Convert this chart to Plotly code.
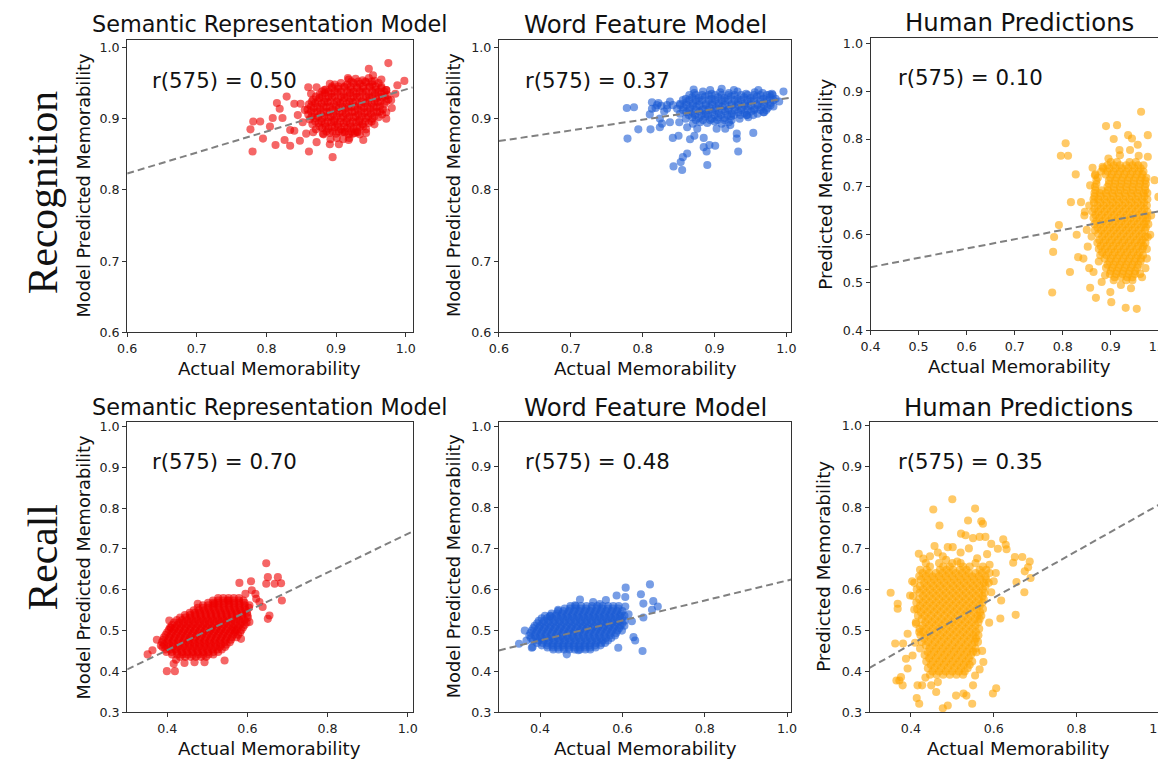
import plotly.graph_objects as go

W, H = 1166, 759

# ---------------- data ----------------
row_labels = ["Recognition", "Recall"]
titles = ["Semantic Representation Model", "Word Feature Model", "Human Predictions"]
r_texts = ["r(575) = 0.50", "r(575) = 0.37", "r(575) = 0.10",
           "r(575) = 0.70", "r(575) = 0.48", "r(575) = 0.35"]

# regression lines: (intercept, slope)
lines = [(0.646, 0.295), (0.7785, 0.150), (0.454, 0.195),
         (0.263, 0.474), (0.3784, 0.244), (0.238, 0.569)]

rec_sem_pts = [
    (0.975, 0.978), (0.947, 0.970), (0.998, 0.953), (0.988, 0.947), (0.780, 0.854), (0.781, 0.896),
    (0.791, 0.896), (0.777, 0.885), (0.795, 0.872), (0.805, 0.889), (0.809, 0.901), (0.813, 0.863),
    (0.826, 0.870), (0.834, 0.862), (0.815, 0.922), (0.829, 0.931), (0.819, 0.914), (0.823, 0.901),
    (0.834, 0.884), (0.840, 0.883), (0.849, 0.921), (0.840, 0.921), (0.860, 0.944), (0.872, 0.944),
    (0.864, 0.935), (0.848, 0.869), (0.861, 0.854), (0.872, 0.867), (0.891, 0.864), (0.895, 0.846),
    (0.904, 0.864), (0.918, 0.870), (0.931, 0.881), (0.939, 0.870), (0.943, 0.880), (0.972, 0.900),
    (0.972, 0.909), (0.979, 0.926), (0.972, 0.940), (0.953, 0.961), (0.917, 0.957), (0.891, 0.949),
    (0.883, 0.940), (0.924, 0.879), (0.912, 0.881), (0.881, 0.879), (0.867, 0.881), (0.857, 0.879),
    (0.845, 0.905), (0.852, 0.895), (0.855, 0.912), (0.965, 0.955), (0.985, 0.935), (0.980, 0.915),
    (0.918, 0.955), (0.928, 0.956), (0.938, 0.954), (0.947, 0.957), (0.955, 0.953),
    (0.898, 0.948), (0.907, 0.950), (0.916, 0.948), (0.925, 0.950), (0.934, 0.949), (0.943, 0.951),
    (0.952, 0.948), (0.961, 0.950),
    (0.885, 0.941), (0.894, 0.943), (0.903, 0.942), (0.912, 0.944), (0.921, 0.941), (0.930, 0.943),
    (0.939, 0.942), (0.948, 0.944), (0.957, 0.941), (0.965, 0.943), (0.972, 0.940),
    (0.876, 0.934), (0.884, 0.936), (0.893, 0.935), (0.902, 0.937), (0.911, 0.934), (0.920, 0.936),
    (0.929, 0.935), (0.938, 0.937), (0.947, 0.934), (0.956, 0.936), (0.965, 0.935), (0.974, 0.933),
    (0.867, 0.927), (0.876, 0.929), (0.885, 0.928), (0.894, 0.930), (0.903, 0.927), (0.912, 0.929),
    (0.921, 0.928), (0.930, 0.930), (0.939, 0.927), (0.948, 0.929), (0.957, 0.928), (0.966, 0.930),
    (0.975, 0.927),
    (0.861, 0.920), (0.870, 0.922), (0.879, 0.921), (0.888, 0.923), (0.897, 0.920), (0.906, 0.922),
    (0.915, 0.921), (0.924, 0.923), (0.933, 0.920), (0.942, 0.922), (0.951, 0.921), (0.960, 0.923),
    (0.969, 0.920),
    (0.859, 0.913), (0.868, 0.915), (0.877, 0.914), (0.886, 0.916), (0.895, 0.913), (0.904, 0.915),
    (0.913, 0.914), (0.922, 0.916), (0.931, 0.913), (0.940, 0.915), (0.949, 0.914), (0.958, 0.916),
    (0.967, 0.913),
    (0.860, 0.906), (0.869, 0.908), (0.878, 0.907), (0.887, 0.909), (0.896, 0.906), (0.905, 0.908),
    (0.914, 0.907), (0.923, 0.909), (0.932, 0.906), (0.941, 0.908), (0.950, 0.907), (0.959, 0.909),
    (0.966, 0.906),
    (0.862, 0.899), (0.871, 0.901), (0.880, 0.900), (0.889, 0.902), (0.898, 0.899), (0.907, 0.901),
    (0.916, 0.900), (0.925, 0.902), (0.934, 0.899), (0.943, 0.901), (0.952, 0.900), (0.961, 0.902),
    (0.866, 0.892), (0.875, 0.894), (0.884, 0.893), (0.893, 0.895), (0.902, 0.892), (0.911, 0.894),
    (0.920, 0.893), (0.929, 0.895), (0.938, 0.892), (0.947, 0.894), (0.955, 0.892),
    (0.871, 0.885), (0.880, 0.887), (0.889, 0.886), (0.898, 0.888), (0.907, 0.885), (0.916, 0.887),
    (0.925, 0.886), (0.934, 0.888), (0.943, 0.885),
    (0.882, 0.878), (0.891, 0.880), (0.900, 0.879), (0.909, 0.881), (0.918, 0.878), (0.927, 0.880),
    (0.934, 0.878),
    (0.892, 0.871), (0.901, 0.873), (0.910, 0.871), (0.919, 0.873),
]
rec_sem_core = [
    (0.952, [0.922, 0.932, 0.942, 0.951]),
    (0.945, [0.894, 0.903, 0.912, 0.921, 0.930, 0.939, 0.948, 0.957, 0.965]),
    (0.938, [0.880, 0.889, 0.898, 0.907, 0.916, 0.925, 0.934, 0.943, 0.952, 0.961, 0.969]),
    (0.931, [0.871, 0.880, 0.889, 0.898, 0.907, 0.916, 0.925, 0.934, 0.943, 0.952, 0.961, 0.970]),
    (0.924, [0.865, 0.874, 0.883, 0.892, 0.901, 0.910, 0.919, 0.928, 0.937, 0.946, 0.955, 0.964,
             0.972]),
    (0.917, [0.864, 0.873, 0.882, 0.891, 0.900, 0.909, 0.918, 0.927, 0.936, 0.945, 0.954, 0.963]),
    (0.910, [0.864, 0.873, 0.882, 0.891, 0.900, 0.909, 0.918, 0.927, 0.936, 0.945, 0.954, 0.963]),
    (0.903, [0.865, 0.874, 0.883, 0.892, 0.901, 0.910, 0.919, 0.928, 0.937, 0.946, 0.955]),
    (0.896, [0.870, 0.879, 0.888, 0.897, 0.906, 0.915, 0.924, 0.933, 0.942, 0.951]),
    (0.889, [0.876, 0.885, 0.894, 0.903, 0.912, 0.921, 0.930, 0.939]),
    (0.882, [0.886, 0.895, 0.904, 0.913, 0.922, 0.930]),
]

rec_word_pts = [
    (0.778, 0.915), (0.788, 0.916), (0.779, 0.872), (0.794, 0.885), (0.811, 0.885), (0.813, 0.923),
    (0.813, 0.914), (0.824, 0.900), (0.824, 0.888), (0.842, 0.873), (0.850, 0.876), (0.851, 0.895),
    (0.862, 0.888), (0.866, 0.871), (0.872, 0.876), (0.862, 0.851), (0.856, 0.846), (0.843, 0.833),
    (0.855, 0.828), (0.853, 0.839), (0.885, 0.873), (0.885, 0.860), (0.889, 0.854), (0.893, 0.863),
    (0.901, 0.862), (0.890, 0.835), (0.931, 0.879), (0.931, 0.872), (0.933, 0.854), (0.954, 0.880),
    (0.915, 0.886), (0.996, 0.938), (0.980, 0.935), (0.871, 0.941), (0.894, 0.940), (0.910, 0.942),
    (0.927, 0.940), (0.961, 0.940), (0.810, 0.906), (0.820, 0.919), (0.834, 0.919), (0.838, 0.895),
    (0.827, 0.893), (0.876, 0.886), (0.903, 0.886), (0.922, 0.891), (0.945, 0.905), (0.968, 0.909),
    (0.990, 0.924),
    (0.872, 0.936), (0.884, 0.938), (0.896, 0.935), (0.908, 0.937), (0.920, 0.936), (0.932, 0.938),
    (0.944, 0.935), (0.956, 0.937), (0.967, 0.936), (0.977, 0.934),
    (0.860, 0.928), (0.869, 0.930), (0.878, 0.929), (0.887, 0.931), (0.896, 0.928), (0.905, 0.930),
    (0.914, 0.929), (0.923, 0.931), (0.932, 0.928), (0.941, 0.930), (0.950, 0.929), (0.959, 0.931),
    (0.968, 0.928), (0.977, 0.930), (0.985, 0.928),
    (0.852, 0.921), (0.861, 0.923), (0.870, 0.922), (0.879, 0.924), (0.888, 0.921), (0.897, 0.923),
    (0.906, 0.922), (0.915, 0.924), (0.924, 0.921), (0.933, 0.923), (0.942, 0.922), (0.951, 0.924),
    (0.960, 0.921), (0.969, 0.923), (0.978, 0.922),
    (0.848, 0.914), (0.857, 0.916), (0.866, 0.915), (0.875, 0.917), (0.884, 0.914), (0.893, 0.916),
    (0.902, 0.915), (0.911, 0.917), (0.920, 0.914), (0.929, 0.916), (0.938, 0.915), (0.947, 0.917),
    (0.956, 0.914), (0.965, 0.916), (0.974, 0.915), (0.982, 0.917),
    (0.852, 0.907), (0.861, 0.909), (0.870, 0.908), (0.879, 0.910), (0.888, 0.907), (0.897, 0.909),
    (0.906, 0.908), (0.915, 0.910), (0.924, 0.907), (0.933, 0.909), (0.942, 0.908), (0.951, 0.910),
    (0.960, 0.907), (0.969, 0.909),
    (0.860, 0.900), (0.869, 0.902), (0.878, 0.901), (0.887, 0.903), (0.896, 0.900), (0.905, 0.902),
    (0.914, 0.901), (0.923, 0.903), (0.935, 0.900), (0.947, 0.902),
    (0.870, 0.893), (0.880, 0.895), (0.890, 0.894), (0.900, 0.896), (0.910, 0.893), (0.920, 0.895),
    (0.818, 0.915), (0.826, 0.918), (0.834, 0.914), (0.842, 0.919), (0.830, 0.910), (0.822, 0.922),
    (0.838, 0.924),
]
rec_word_core = [
    (0.933, [0.865, 0.874, 0.883, 0.892, 0.901, 0.910, 0.919, 0.928, 0.937, 0.946, 0.955, 0.964,
             0.973, 0.981]),
    (0.926, [0.856, 0.865, 0.874, 0.883, 0.892, 0.901, 0.910, 0.919, 0.928, 0.937, 0.946, 0.955,
             0.964, 0.973, 0.982]),
    (0.919, [0.852, 0.861, 0.870, 0.879, 0.888, 0.897, 0.906, 0.915, 0.924, 0.933, 0.942, 0.951,
             0.960, 0.969, 0.978]),
    (0.912, [0.856, 0.865, 0.874, 0.883, 0.892, 0.901, 0.910, 0.919, 0.928, 0.937, 0.946, 0.955,
             0.964, 0.972]),
    (0.905, [0.864, 0.873, 0.882, 0.891, 0.900, 0.909, 0.918, 0.927, 0.936, 0.945, 0.954]),
    (0.898, [0.874, 0.884, 0.894, 0.904, 0.914, 0.924]),
]

rec_hum_pts = [
    (0.963, 0.857), (0.890, 0.827), (0.913, 0.829), (0.906, 0.800), (0.936, 0.808), (0.944, 0.801),
    (0.956, 0.788), (0.977, 0.808), (0.806, 0.791), (0.796, 0.765), (0.811, 0.765), (0.827, 0.726),
    (0.977, 0.763), (0.999, 0.679), (0.991, 0.714), (0.817, 0.668), (0.792, 0.620), (0.782, 0.595),
    (0.780, 0.564), (0.815, 0.522), (0.778, 0.479), (0.829, 0.600), (0.832, 0.553), (0.843, 0.550),
    (0.864, 0.522), (0.857, 0.489), (0.869, 0.468), (0.881, 0.501), (0.899, 0.480), (0.901, 0.459),
    (0.931, 0.447), (0.954, 0.445), (0.942, 0.488), (0.965, 0.511), (0.975, 0.550), (0.977, 0.595),
    (0.846, 0.648), (0.857, 0.703), (0.867, 0.724), (0.883, 0.742), (0.895, 0.759), (0.919, 0.766),
    (0.918, 0.777), (0.940, 0.777), (0.838, 0.668), (0.850, 0.610), (0.852, 0.575), (0.845, 0.640),
    (0.862, 0.740), (0.958, 0.765), (0.968, 0.745), (0.984, 0.640), (0.982, 0.600), (0.855, 0.530),
    (0.972, 0.530), (0.921, 0.495), (0.888, 0.515),
]
rec_hum_core = [
    (0.752, [0.900, 0.913, 0.939, 0.952]),
    (0.739, [0.884, 0.897, 0.910, 0.923, 0.936, 0.949, 0.962]),
    (0.726, [0.868, 0.889, 0.902, 0.915, 0.928, 0.941, 0.954, 0.966]),
    (0.713, [0.870, 0.896, 0.909, 0.922, 0.935, 0.948, 0.961, 0.972]),
    (0.700, [0.867, 0.893, 0.906, 0.919, 0.932, 0.945, 0.958, 0.971]),
    (0.687, [0.866, 0.877, 0.890, 0.903, 0.916, 0.929, 0.942, 0.955, 0.968, 0.976]),
    (0.674, [0.864, 0.874, 0.887, 0.900, 0.913, 0.926, 0.939, 0.952, 0.965, 0.976]),
    (0.661, [0.855, 0.872, 0.885, 0.898, 0.911, 0.924, 0.937, 0.950, 0.963, 0.975]),
    (0.648, [0.862, 0.874, 0.887, 0.900, 0.913, 0.926, 0.939, 0.952, 0.965, 0.976]),
    (0.635, [0.864, 0.876, 0.889, 0.902, 0.915, 0.928, 0.941, 0.954, 0.967, 0.976]),
    (0.622, [0.866, 0.878, 0.891, 0.904, 0.917, 0.930, 0.943, 0.956, 0.969, 0.978]),
    (0.609, [0.867, 0.880, 0.893, 0.906, 0.919, 0.932, 0.945, 0.958, 0.971]),
    (0.596, [0.860, 0.882, 0.895, 0.908, 0.921, 0.934, 0.947, 0.960, 0.972]),
    (0.583, [0.872, 0.885, 0.898, 0.911, 0.924, 0.937, 0.950, 0.963, 0.972]),
    (0.570, [0.875, 0.888, 0.901, 0.914, 0.927, 0.940, 0.953, 0.966, 0.975]),
    (0.557, [0.878, 0.891, 0.904, 0.917, 0.930, 0.943, 0.956, 0.967]),
    (0.544, [0.875, 0.897, 0.910, 0.923, 0.936, 0.949, 0.962]),
    (0.531, [0.890, 0.903, 0.916, 0.929, 0.942, 0.955]),
    (0.518, [0.898, 0.911, 0.924, 0.937, 0.950, 0.961]),
    (0.505, [0.906, 0.932, 0.945]),
    (0.745, [0.893, 0.906, 0.919, 0.932, 0.945, 0.957]),
    (0.732, [0.880, 0.893, 0.906, 0.919, 0.932, 0.945, 0.958, 0.968]),
    (0.719, [0.873, 0.899, 0.912, 0.925, 0.938, 0.951, 0.964, 0.974]),
    (0.706, [0.870, 0.896, 0.909, 0.922, 0.935, 0.948, 0.961, 0.973]),
    (0.693, [0.868, 0.881, 0.894, 0.907, 0.920, 0.933, 0.946, 0.959, 0.972]),
    (0.680, [0.866, 0.879, 0.892, 0.905, 0.918, 0.931, 0.944, 0.957, 0.970]),
    (0.667, [0.865, 0.878, 0.891, 0.904, 0.917, 0.930, 0.943, 0.956, 0.969]),
    (0.654, [0.866, 0.879, 0.892, 0.905, 0.918, 0.931, 0.944, 0.957, 0.970]),
    (0.641, [0.868, 0.881, 0.894, 0.907, 0.920, 0.933, 0.946, 0.959, 0.972]),
    (0.628, [0.870, 0.883, 0.896, 0.909, 0.922, 0.935, 0.948, 0.961, 0.973]),
    (0.615, [0.872, 0.885, 0.898, 0.911, 0.924, 0.937, 0.950, 0.963, 0.973]),
    (0.602, [0.874, 0.887, 0.900, 0.913, 0.926, 0.939, 0.952, 0.965]),
    (0.589, [0.876, 0.889, 0.902, 0.915, 0.928, 0.941, 0.954, 0.966]),
    (0.576, [0.879, 0.892, 0.905, 0.918, 0.931, 0.944, 0.957, 0.968]),
    (0.563, [0.882, 0.895, 0.908, 0.921, 0.934, 0.947, 0.960]),
    (0.550, [0.887, 0.900, 0.913, 0.926, 0.939, 0.952, 0.963]),
    (0.537, [0.893, 0.906, 0.919, 0.932, 0.945, 0.957]),
    (0.524, [0.900, 0.913, 0.926, 0.939, 0.951]),
    (0.511, [0.908, 0.921, 0.934, 0.945]),
]

rcl_sem_pts = [
    (0.647, 0.665), (0.651, 0.631), (0.676, 0.631), (0.684, 0.616), (0.668, 0.615), (0.647, 0.615),
    (0.686, 0.574), (0.655, 0.537), (0.651, 0.529), (0.609, 0.621), (0.580, 0.617), (0.611, 0.599),
    (0.622, 0.578), (0.638, 0.558), (0.605, 0.562), (0.584, 0.480), (0.543, 0.427), (0.351, 0.442),
    (0.363, 0.452), (0.374, 0.478), (0.384, 0.464), (0.399, 0.401), (0.419, 0.401), (0.416, 0.419),
    (0.422, 0.429), (0.443, 0.421), (0.468, 0.423), (0.493, 0.423), (0.409, 0.507), (0.405, 0.525),
    (0.476, 0.566), (0.518, 0.566), (0.551, 0.574), (0.568, 0.501), (0.605, 0.521), (0.620, 0.590),
    (0.595, 0.590), (0.630, 0.570),
]
rcl_sem_core = [
    (0.580, [0.527, 0.540, 0.553, 0.566, 0.579]),
    (0.568, [0.502, 0.515, 0.528, 0.541, 0.554, 0.567, 0.580, 0.593]),
    (0.556, [0.476, 0.489, 0.502, 0.515, 0.528, 0.541, 0.554, 0.567, 0.580, 0.593, 0.604]),
    (0.544, [0.456, 0.469, 0.482, 0.495, 0.508, 0.521, 0.534, 0.547, 0.560, 0.573, 0.586, 0.599]),
    (0.532, [0.432, 0.445, 0.458, 0.471, 0.484, 0.497, 0.510, 0.523, 0.536, 0.549, 0.562, 0.575,
             0.588, 0.601]),
    (0.520, [0.417, 0.430, 0.443, 0.456, 0.469, 0.482, 0.495, 0.508, 0.521, 0.534, 0.547, 0.560,
             0.573, 0.586, 0.598]),
    (0.508, [0.407, 0.420, 0.433, 0.446, 0.459, 0.472, 0.485, 0.498, 0.511, 0.524, 0.537, 0.550,
             0.563, 0.576, 0.589]),
    (0.496, [0.400, 0.413, 0.426, 0.439, 0.452, 0.465, 0.478, 0.491, 0.504, 0.517, 0.530, 0.543,
             0.556, 0.569, 0.582]),
    (0.484, [0.392, 0.405, 0.418, 0.431, 0.444, 0.457, 0.470, 0.483, 0.496, 0.509, 0.522, 0.535,
             0.548, 0.561, 0.573]),
    (0.472, [0.387, 0.400, 0.413, 0.426, 0.439, 0.452, 0.465, 0.478, 0.491, 0.504, 0.517, 0.530,
             0.543, 0.556]),
    (0.460, [0.388, 0.401, 0.414, 0.427, 0.440, 0.453, 0.466, 0.479, 0.492, 0.505, 0.518, 0.531,
             0.544]),
    (0.448, [0.398, 0.411, 0.424, 0.437, 0.450, 0.463, 0.476, 0.489, 0.502, 0.515, 0.527]),
    (0.436, [0.432, 0.445, 0.458, 0.471, 0.484, 0.497]),
    (0.574, [0.514, 0.527, 0.540, 0.553, 0.566, 0.579, 0.590]),
    (0.562, [0.489, 0.502, 0.515, 0.528, 0.541, 0.554, 0.567, 0.580, 0.593]),
    (0.550, [0.466, 0.479, 0.492, 0.505, 0.518, 0.531, 0.544, 0.557, 0.570, 0.583, 0.596]),
    (0.538, [0.444, 0.457, 0.470, 0.483, 0.496, 0.509, 0.522, 0.535, 0.548, 0.561, 0.574, 0.587,
             0.600]),
    (0.526, [0.424, 0.437, 0.450, 0.463, 0.476, 0.489, 0.502, 0.515, 0.528, 0.541, 0.554, 0.567,
             0.580, 0.593]),
    (0.514, [0.412, 0.425, 0.438, 0.451, 0.464, 0.477, 0.490, 0.503, 0.516, 0.529, 0.542, 0.555,
             0.568, 0.581, 0.593]),
    (0.502, [0.404, 0.417, 0.430, 0.443, 0.456, 0.469, 0.482, 0.495, 0.508, 0.521, 0.534, 0.547,
             0.560, 0.573, 0.585]),
    (0.490, [0.396, 0.409, 0.422, 0.435, 0.448, 0.461, 0.474, 0.487, 0.500, 0.513, 0.526, 0.539,
             0.552, 0.565, 0.577]),
    (0.478, [0.390, 0.403, 0.416, 0.429, 0.442, 0.455, 0.468, 0.481, 0.494, 0.507, 0.520, 0.533,
             0.546, 0.559]),
    (0.466, [0.392, 0.405, 0.418, 0.431, 0.444, 0.457, 0.470, 0.483, 0.496, 0.509, 0.522, 0.535,
             0.548]),
    (0.454, [0.395, 0.408, 0.421, 0.434, 0.447, 0.460, 0.473, 0.486, 0.499, 0.512, 0.525, 0.536]),
    (0.442, [0.412, 0.425, 0.438, 0.451, 0.464, 0.477, 0.490, 0.503, 0.515]),
]

rcl_word_pts = [
    (0.667, 0.613), (0.608, 0.605), (0.645, 0.589), (0.586, 0.586), (0.607, 0.582), (0.675, 0.572),
    (0.686, 0.559), (0.672, 0.551), (0.651, 0.566), (0.651, 0.532), (0.627, 0.484), (0.631, 0.476),
    (0.649, 0.450), (0.590, 0.458), (0.497, 0.576), (0.444, 0.551), (0.485, 0.562), (0.529, 0.570),
    (0.363, 0.500), (0.380, 0.458), (0.367, 0.476), (0.465, 0.442), (0.493, 0.452), (0.424, 0.535),
    (0.607, 0.559), (0.623, 0.523), (0.349, 0.468), (0.382, 0.460), (0.615, 0.540), (0.560, 0.575),
    (0.545, 0.565),
]
rcl_word_core = [
    (0.560, [0.474, 0.487, 0.500, 0.513, 0.526, 0.539, 0.552, 0.565, 0.578, 0.591]),
    (0.548, [0.444, 0.457, 0.470, 0.483, 0.496, 0.509, 0.522, 0.535, 0.548, 0.561, 0.574, 0.587,
             0.600]),
    (0.536, [0.412, 0.425, 0.438, 0.451, 0.464, 0.477, 0.490, 0.503, 0.516, 0.529, 0.542, 0.555,
             0.568, 0.581, 0.594, 0.605]),
    (0.524, [0.397, 0.410, 0.423, 0.436, 0.449, 0.462, 0.475, 0.488, 0.501, 0.514, 0.527, 0.540,
             0.553, 0.566, 0.579, 0.592, 0.605]),
    (0.512, [0.387, 0.400, 0.413, 0.426, 0.439, 0.452, 0.465, 0.478, 0.491, 0.504, 0.517, 0.530,
             0.543, 0.556, 0.569, 0.582, 0.595, 0.605]),
    (0.500, [0.380, 0.393, 0.406, 0.419, 0.432, 0.445, 0.458, 0.471, 0.484, 0.497, 0.510, 0.523,
             0.536, 0.549, 0.562, 0.575, 0.588, 0.599]),
    (0.488, [0.374, 0.387, 0.400, 0.413, 0.426, 0.439, 0.452, 0.465, 0.478, 0.491, 0.504, 0.517,
             0.530, 0.543, 0.556, 0.569, 0.582]),
    (0.476, [0.383, 0.396, 0.409, 0.422, 0.435, 0.448, 0.461, 0.474, 0.487, 0.500, 0.513, 0.526,
             0.539, 0.552, 0.565]),
    (0.464, [0.404, 0.417, 0.430, 0.443, 0.456, 0.469, 0.482, 0.495, 0.508, 0.521, 0.534, 0.547]),
    (0.454, [0.432, 0.445, 0.458, 0.471, 0.484, 0.497, 0.510, 0.522]),
    (0.554, [0.460, 0.473, 0.486, 0.499, 0.512, 0.525, 0.538, 0.551, 0.564, 0.577, 0.590]),
    (0.542, [0.428, 0.441, 0.454, 0.467, 0.480, 0.493, 0.506, 0.519, 0.532, 0.545, 0.558, 0.571,
             0.584, 0.597]),
    (0.530, [0.404, 0.417, 0.430, 0.443, 0.456, 0.469, 0.482, 0.495, 0.508, 0.521, 0.534, 0.547,
             0.560, 0.573, 0.586, 0.599]),
    (0.518, [0.393, 0.406, 0.419, 0.432, 0.445, 0.458, 0.471, 0.484, 0.497, 0.510, 0.523, 0.536,
             0.549, 0.562, 0.575, 0.588, 0.600]),
    (0.506, [0.384, 0.397, 0.410, 0.423, 0.436, 0.449, 0.462, 0.475, 0.488, 0.501, 0.514, 0.527,
             0.540, 0.553, 0.566, 0.579, 0.592]),
    (0.494, [0.377, 0.390, 0.403, 0.416, 0.429, 0.442, 0.455, 0.468, 0.481, 0.494, 0.507, 0.520,
             0.533, 0.546, 0.559, 0.572, 0.585]),
    (0.482, [0.378, 0.391, 0.404, 0.417, 0.430, 0.443, 0.456, 0.469, 0.482, 0.495, 0.508, 0.521,
             0.534, 0.547, 0.560, 0.573]),
    (0.470, [0.393, 0.406, 0.419, 0.432, 0.445, 0.458, 0.471, 0.484, 0.497, 0.510, 0.523, 0.536,
             0.549, 0.558]),
    (0.459, [0.418, 0.431, 0.444, 0.457, 0.470, 0.483, 0.496, 0.509, 0.522, 0.535]),
]

rcl_hum_pts = [
    (0.500, 0.820), (0.454, 0.795), (0.555, 0.797), (0.469, 0.756), (0.538, 0.768), (0.570, 0.766),
    (0.574, 0.760), (0.521, 0.736), (0.532, 0.732), (0.550, 0.725), (0.566, 0.728), (0.580, 0.728),
    (0.623, 0.722), (0.629, 0.709), (0.594, 0.711), (0.610, 0.699), (0.631, 0.698), (0.419, 0.687),
    (0.457, 0.706), (0.446, 0.681), (0.477, 0.681), (0.489, 0.703), (0.501, 0.703), (0.651, 0.679),
    (0.669, 0.679), (0.687, 0.668), (0.683, 0.654), (0.647, 0.665), (0.675, 0.644), (0.689, 0.628),
    (0.655, 0.618), (0.674, 0.593), (0.653, 0.538), (0.618, 0.573), (0.616, 0.529), (0.589, 0.519),
    (0.351, 0.592), (0.368, 0.565), (0.368, 0.553), (0.408, 0.551), (0.362, 0.468), (0.381, 0.468),
    (0.392, 0.492), (0.388, 0.431), (0.392, 0.407), (0.376, 0.386), (0.372, 0.378), (0.380, 0.366),
    (0.416, 0.366), (0.427, 0.366), (0.414, 0.335), (0.420, 0.321), (0.477, 0.310), (0.489, 0.317),
    (0.509, 0.341), (0.527, 0.346), (0.548, 0.321), (0.598, 0.346), (0.606, 0.359), (0.575, 0.423),
    (0.550, 0.366), (0.534, 0.341), (0.461, 0.350), (0.449, 0.366), (0.465, 0.374), (0.594, 0.593),
    (0.558, 0.447), (0.572, 0.450), (0.420, 0.496), (0.412, 0.516), (0.404, 0.439), (0.365, 0.378),
    (0.600, 0.620), (0.605, 0.640), (0.590, 0.660), (0.520, 0.690), (0.540, 0.700), (0.465, 0.690),
    (0.430, 0.675), (0.485, 0.672), (0.512, 0.668), (0.560, 0.676), (0.584, 0.686), (0.403, 0.620),
    (0.398, 0.585), (0.410, 0.470), (0.566, 0.405), (0.555, 0.390), (0.435, 0.385),
]
rcl_hum_core = [
    (0.664, [0.436, 0.468, 0.500, 0.520, 0.556]),
    (0.648, [0.422, 0.438, 0.470, 0.486, 0.502, 0.518, 0.534, 0.566, 0.582]),
    (0.632, [0.420, 0.436, 0.452, 0.468, 0.484, 0.500, 0.516, 0.532, 0.548, 0.564, 0.580]),
    (0.616, [0.408, 0.432, 0.448, 0.464, 0.480, 0.496, 0.512, 0.528, 0.544, 0.560, 0.576, 0.588]),
    (0.600, [0.414, 0.430, 0.446, 0.462, 0.478, 0.494, 0.510, 0.526, 0.542, 0.558, 0.574]),
    (0.584, [0.405, 0.429, 0.445, 0.461, 0.477, 0.493, 0.509, 0.525, 0.541, 0.557, 0.573]),
    (0.568, [0.413, 0.429, 0.445, 0.461, 0.477, 0.493, 0.509, 0.525, 0.541, 0.557, 0.573]),
    (0.552, [0.415, 0.431, 0.447, 0.463, 0.479, 0.495, 0.511, 0.527, 0.543, 0.559, 0.574]),
    (0.536, [0.417, 0.433, 0.449, 0.465, 0.481, 0.497, 0.513, 0.529, 0.545, 0.561, 0.570]),
    (0.520, [0.412, 0.435, 0.451, 0.467, 0.483, 0.499, 0.515, 0.531, 0.547, 0.563]),
    (0.504, [0.421, 0.437, 0.453, 0.469, 0.485, 0.501, 0.517, 0.533, 0.549, 0.565]),
    (0.488, [0.423, 0.439, 0.455, 0.471, 0.487, 0.503, 0.519, 0.535, 0.551, 0.563]),
    (0.472, [0.426, 0.442, 0.458, 0.474, 0.490, 0.506, 0.522, 0.538, 0.554, 0.562]),
    (0.456, [0.422, 0.445, 0.461, 0.477, 0.493, 0.509, 0.525, 0.541, 0.556]),
    (0.440, [0.433, 0.449, 0.465, 0.481, 0.497, 0.513, 0.529, 0.545]),
    (0.424, [0.437, 0.453, 0.469, 0.485, 0.501, 0.517, 0.533, 0.548]),
    (0.408, [0.441, 0.457, 0.473, 0.489, 0.505, 0.521, 0.537]),
    (0.392, [0.446, 0.462, 0.478, 0.494, 0.510, 0.526]),
    (0.656, [0.446, 0.478, 0.494, 0.526, 0.542, 0.574]),
    (0.640, [0.428, 0.444, 0.460, 0.476, 0.492, 0.508, 0.524, 0.540, 0.556, 0.572, 0.590]),
    (0.624, [0.424, 0.440, 0.456, 0.472, 0.488, 0.504, 0.520, 0.536, 0.552, 0.568, 0.582]),
    (0.608, [0.422, 0.438, 0.454, 0.470, 0.486, 0.502, 0.518, 0.534, 0.550, 0.566, 0.580]),
    (0.592, [0.421, 0.437, 0.453, 0.469, 0.485, 0.501, 0.517, 0.533, 0.549, 0.565, 0.578]),
    (0.576, [0.420, 0.436, 0.452, 0.468, 0.484, 0.500, 0.516, 0.532, 0.548, 0.564, 0.576]),
    (0.560, [0.422, 0.438, 0.454, 0.470, 0.486, 0.502, 0.518, 0.534, 0.550, 0.566]),
    (0.544, [0.424, 0.440, 0.456, 0.472, 0.488, 0.504, 0.520, 0.536, 0.552, 0.567]),
    (0.528, [0.426, 0.442, 0.458, 0.474, 0.490, 0.506, 0.522, 0.538, 0.554, 0.566]),
    (0.512, [0.428, 0.444, 0.460, 0.476, 0.492, 0.508, 0.524, 0.540, 0.556]),
    (0.496, [0.430, 0.446, 0.462, 0.478, 0.494, 0.510, 0.526, 0.542, 0.557]),
    (0.480, [0.432, 0.448, 0.464, 0.480, 0.496, 0.512, 0.528, 0.544, 0.557]),
    (0.464, [0.436, 0.452, 0.468, 0.484, 0.500, 0.516, 0.532, 0.548]),
    (0.448, [0.440, 0.456, 0.472, 0.488, 0.504, 0.520, 0.536, 0.550]),
    (0.432, [0.444, 0.460, 0.476, 0.492, 0.508, 0.524, 0.540]),
    (0.416, [0.448, 0.464, 0.480, 0.496, 0.512, 0.528, 0.542]),
    (0.400, [0.452, 0.468, 0.484, 0.500, 0.516, 0.530]),
]

rec_ticks_a = [0.6, 0.7, 0.8, 0.9, 1.0]
rec_ticks_h = [0.4, 0.5, 0.6, 0.7, 0.8, 0.9, 1.0]
rcl_xticks = [0.4, 0.6, 0.8, 1.0]
rcl_yticks = [0.3, 0.4, 0.5, 0.6, 0.7, 0.8, 0.9, 1.0]

# ---------------- styling / layout ----------------
RED = "rgb(238,0,0)"
BLUE = "rgb(28,92,212)"
ORANGE = "rgb(255,165,0)"
FONT = "DejaVu Sans"
FS = 1.015  # font scale

# placement helpers: target pixel -> paper fraction
SX, OX = 0.9845, 19.0
SY, OY = 0.984, 12.7


def PX(x):
    return min(1.0, max(0.0, (x - OX) / SX / W))


def PY(y):
    return min(1.0, max(0.0, 1 - (y - OY) / SY / H))


def expand(pts, core=None):
    xs = [p[0] for p in pts]
    ys = [p[1] for p in pts]
    if core:
        for y, row in core:
            for x in row:
                xs.append(x)
                ys.append(y)
    return xs, ys


panels = [
    dict(data=expand(rec_sem_pts, rec_sem_core), color=RED, xr=[0.6, 1.010], yr=[0.6, 1.010],
         xd=[128, 413], yd=[332, 40], xt=rec_ticks_a, yt=rec_ticks_a,
         ytitle="Model Predicted Memorability", ytx=85, yty=185, ysz=17.5, tsz=22, ty=24,
         rx=151, ry=80, xty=368, right=True),
    dict(data=expand(rec_word_pts, rec_word_core), color=BLUE, xr=[0.6, 1.007], yr=[0.6, 1.010],
         xd=[499, 791], yd=[332, 40], xt=rec_ticks_a, yt=rec_ticks_a,
         ytitle="Model Predicted Memorability", ytx=455, yty=185, ysz=17.5, tsz=24, ty=24,
         rx=523, ry=80, xty=368, right=True),
    dict(data=expand(rec_hum_pts, rec_hum_core), color=ORANGE, xr=[0.4, 1.019], yr=[0.4, 1.0105],
         xd=[870, 1167], yd=[330, 38], xt=rec_ticks_h, yt=rec_ticks_h,
         ytitle="Predicted Memorability", ytx=825, yty=184, ysz=18, tsz=24, ty=22,
         rx=895, ry=77, xty=366, right=False),
    dict(data=expand(rcl_sem_pts, rcl_sem_core), color=RED, xr=[0.3, 1.0125], yr=[0.3, 1.0097],
         xd=[128, 413], yd=[712, 422], xt=rcl_xticks, yt=rcl_yticks,
         ytitle="Model Predicted Memorability", ytx=85, yty=567, ysz=17.5, tsz=22, ty=407,
         rx=151, ry=461, xty=748, right=True),
    dict(data=expand(rcl_word_pts, rcl_word_core), color=BLUE, xr=[0.3, 1.0105], yr=[0.3, 1.009],
         xd=[499, 791], yd=[712, 422], xt=rcl_xticks, yt=rcl_yticks,
         ytitle="Model Predicted Memorability", ytx=455, yty=566, ysz=17.5, tsz=24, ty=407,
         rx=523, ry=461, xty=748, right=True),
    dict(data=expand(rcl_hum_pts, rcl_hum_core), color=ORANGE, xr=[0.3, 1.021], yr=[0.3, 1.0073],
         xd=[869, 1167], yd=[712, 422], xt=rcl_xticks, yt=rcl_yticks,
         ytitle="Predicted Memorability", ytx=823, yty=566, ysz=18, tsz=24, ty=407,
         rx=895, ry=461, xty=748, right=False),
]

fig = go.Figure()
annotations = []
layout = {}

for i, p in enumerate(panels):
    k = "" if i == 0 else str(i + 1)
    xs, ys = p["data"]
    fig.add_trace(go.Scatter(
        x=xs, y=ys, mode="markers", xaxis="x" + k, yaxis="y" + k,
        marker=dict(size=8.1, color=p["color"], opacity=0.6, line=dict(width=0)),
        showlegend=False, hoverinfo="skip"))
    b0, b1 = lines[i]
    lx = [p["xr"][0], p["xr"][1]]
    fig.add_trace(go.Scatter(
        x=lx, y=[b0 + b1 * v for v in lx], mode="lines", xaxis="x" + k, yaxis="y" + k,
        line=dict(color="rgb(128,128,128)", width=2, dash="7px,4px"),
        showlegend=False, hoverinfo="skip"))

    axcommon = dict(showline=True, linecolor="#333", linewidth=1, ticks="outside", ticklen=4,
                    tickwidth=1, tickcolor="#333", showgrid=False, zeroline=False,
                    tickfont=dict(family=FONT, size=12.5 * FS, color="#222"))
    layout["xaxis" + k] = dict(
        axcommon, domain=[PX(p["xd"][0]), PX(p["xd"][1])], range=p["xr"],
        anchor="y" + k, mirror=True, tickvals=p["xt"], ticktext=["%.1f" % v for v in p["xt"]])
    layout["yaxis" + k] = dict(
        axcommon, domain=[PY(p["yd"][0]), PY(p["yd"][1])], range=p["yr"],
        anchor="x" + k, mirror=p["right"], tickvals=p["yt"], ticktext=["%.1f" % v for v in p["yt"]])

    cx = (p["xd"][0] + p["xd"][1]) / 2
    annotations.append(dict(text=titles[i % 3], x=PX(cx), y=PY(p["ty"]), xref="paper",
                            yref="paper", showarrow=False, xanchor="center", yanchor="middle",
                            font=dict(family=FONT, size=p["tsz"] * FS, color="#111")))
    annotations.append(dict(text=r_texts[i], x=PX(p["rx"]), y=PY(p["ry"]), xref="paper",
                            yref="paper", showarrow=False, xanchor="left", yanchor="middle",
                            font=dict(family=FONT, size=21 * FS, color="#111")))
    annotations.append(dict(text="Actual Memorability", x=PX(cx), y=PY(p["xty"]),
                            xref="paper", yref="paper", showarrow=False, xanchor="center",
                            yanchor="middle", font=dict(family=FONT, size=18 * FS, color="#111")))
    annotations.append(dict(text=p["ytitle"], x=PX(p["ytx"]), y=PY(p["yty"]),
                            xref="paper", yref="paper", showarrow=False, xanchor="center",
                            yanchor="middle", textangle=-90,
                            font=dict(family=FONT, size=p["ysz"] * FS, color="#111")))

annotations.append(dict(text=row_labels[0], x=0.0, y=PY(192), xref="paper", yref="paper",
                        showarrow=False, textangle=-90, xanchor="left", yanchor="middle",
                        font=dict(family="Liberation Serif", size=41 * FS, color="#111")))
annotations.append(dict(text=row_labels[1], x=0.0, y=PY(557), xref="paper", yref="paper",
                        showarrow=False, textangle=-90, xanchor="left", yanchor="middle",
                        font=dict(family="Liberation Serif", size=41 * FS, color="#111")))

fig.update_layout(
    width=W, height=H, margin=dict(l=0, r=0, t=0, b=0),
    paper_bgcolor="white", plot_bgcolor="white",
    annotations=annotations, **layout)

fig.write_html("out.html")
